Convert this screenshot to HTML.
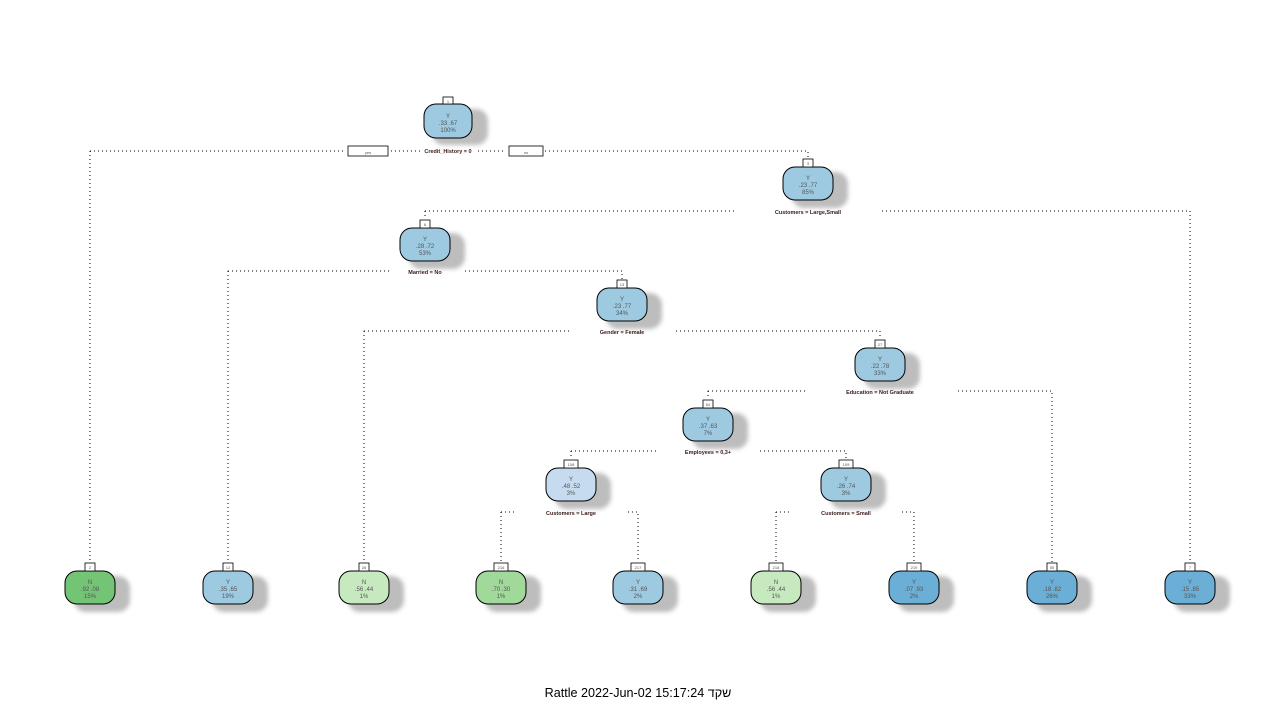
<!DOCTYPE html>
<html><head><meta charset="utf-8"><style>
html,body{margin:0;padding:0;background:#fff;width:1280px;height:720px;overflow:hidden}
svg{display:block}
.t{font-family:"Liberation Sans",sans-serif;font-size:6px;fill:#555;text-anchor:middle}
.s{font-family:"Liberation Sans",sans-serif;font-size:5.5px;fill:#3a1a1a;text-anchor:middle;font-weight:bold}
.d{stroke:#000;stroke-width:1;stroke-dasharray:1 3;fill:none}
.n{stroke:#000;stroke-width:1}
.b{fill:#fff;stroke:#000;stroke-width:0.8}
</style></head><body>
<svg width="1280" height="720" xmlns="http://www.w3.org/2000/svg">
<defs><filter id="bl" x="-30%" y="-30%" width="160%" height="160%"><feGaussianBlur stdDeviation="2"/></filter></defs>
<g class="d">
<path d="M90 151H345M391 151H420M478 151H506M545 151H808V158"/><path d="M90 151V562"/>
<path d="M425 211H735M882 211H1190V562M425 211V219"/>
<path d="M228 271H390M465 271H622V279M228 271V562"/>
<path d="M364 331H572M676 331H880V339M364 331V562"/>
<path d="M708 391H805M958 391H1052V562M708 391V399"/>
<path d="M571 451H657M760 451H846V459M571 451V459"/>
<path d="M501 512H515M628 512H638V562M501 512V562"/>
<path d="M776 512H792M902 512H914V562M776 512V562"/>
</g>
<rect x="348" y="146" width="40" height="10" class="b"/><text x="368" y="154" class="t" style="font-size:4px">yes</text>
<rect x="509" y="146" width="34" height="10" class="b"/><text x="526" y="154" class="t" style="font-size:4px">no</text>
<g>
<g fill="#bdbdbd" filter="url(#bl)">
<rect x="432" y="109" width="56" height="36" rx="12"/>
<rect x="792" y="172" width="56" height="36" rx="12"/>
<rect x="409" y="233" width="56" height="36" rx="12"/>
<rect x="606" y="293" width="56" height="36" rx="12"/>
<rect x="864" y="353" width="56" height="36" rx="12"/>
<rect x="692" y="413" width="56" height="36" rx="12"/>
<rect x="555" y="473" width="56" height="36" rx="12"/>
<rect x="830" y="473" width="56" height="36" rx="12"/>
<rect x="74" y="576" width="56" height="36" rx="12"/>
<rect x="212" y="576" width="56" height="36" rx="12"/>
<rect x="348" y="576" width="56" height="36" rx="12"/>
<rect x="485" y="576" width="56" height="36" rx="12"/>
<rect x="622" y="576" width="56" height="36" rx="12"/>
<rect x="760" y="576" width="56" height="36" rx="12"/>
<rect x="898" y="576" width="56" height="36" rx="12"/>
<rect x="1036" y="576" width="56" height="36" rx="12"/>
<rect x="1174" y="576" width="56" height="36" rx="12"/>
</g>
<g class="n">
<rect x="424" y="104" width="48" height="34" rx="12" fill="#9ecae1"/>
<rect x="783" y="167" width="50" height="33" rx="12" fill="#9ecae1"/>
<rect x="400" y="228" width="50" height="33" rx="12" fill="#9ecae1"/>
<rect x="597" y="288" width="50" height="33" rx="12" fill="#9ecae1"/>
<rect x="855" y="348" width="50" height="33" rx="12" fill="#9ecae1"/>
<rect x="683" y="408" width="50" height="33" rx="12" fill="#9ecae1"/>
<rect x="546" y="468" width="50" height="33" rx="12" fill="#c6dbef"/>
<rect x="821" y="468" width="50" height="33" rx="12" fill="#9ecae1"/>
<rect x="65" y="571" width="50" height="33" rx="12" fill="#74c476"/>
<rect x="203" y="571" width="50" height="33" rx="12" fill="#9ecae1"/>
<rect x="339" y="571" width="50" height="33" rx="12" fill="#c7e9c0"/>
<rect x="476" y="571" width="50" height="33" rx="12" fill="#a1d99b"/>
<rect x="613" y="571" width="50" height="33" rx="12" fill="#9ecae1"/>
<rect x="751" y="571" width="50" height="33" rx="12" fill="#c7e9c0"/>
<rect x="889" y="571" width="50" height="33" rx="12" fill="#6baed6"/>
<rect x="1027" y="571" width="50" height="33" rx="12" fill="#6baed6"/>
<rect x="1165" y="571" width="50" height="33" rx="12" fill="#6baed6"/>
</g>
<g class="b">
<rect x="443" y="97" width="10" height="7"/><rect x="803" y="159" width="10" height="8"/>
<rect x="420" y="220" width="10" height="8"/><rect x="617" y="280" width="10" height="8"/>
<rect x="875" y="340" width="10" height="8"/><rect x="703" y="400" width="10" height="8"/>
<rect x="564" y="460" width="14" height="8"/><rect x="839" y="460" width="14" height="8"/>
<rect x="85" y="563" width="10" height="8"/><rect x="223" y="563" width="10" height="8"/>
<rect x="359" y="563" width="10" height="8"/><rect x="494" y="563" width="14" height="8"/>
<rect x="631" y="563" width="14" height="8"/><rect x="769" y="563" width="14" height="8"/>
<rect x="907" y="563" width="14" height="8"/><rect x="1047" y="563" width="10" height="8"/>
<rect x="1185" y="563" width="10" height="8"/>
</g>
<g class="t" style="font-size:4px">
<text x="448" y="103">1</text><text x="808" y="165">3</text><text x="425" y="226">6</text>
<text x="622" y="286">13</text><text x="880" y="346">27</text><text x="708" y="406">54</text>
<text x="571" y="466">108</text><text x="846" y="466">109</text><text x="90" y="569">2</text>
<text x="228" y="569">12</text><text x="364" y="569">26</text><text x="501" y="569">216</text>
<text x="638" y="569">217</text><text x="776" y="569">218</text><text x="914" y="569">219</text>
<text x="1052" y="569">55</text><text x="1190" y="569">7</text>
</g>
<g class="t">
<text x="448" y="118">Y</text><text x="448" y="125">.33 .67</text><text x="448" y="132">100%</text>
<text x="808" y="180">Y</text><text x="808" y="187">.23 .77</text><text x="808" y="194">85%</text>
<text x="425" y="241">Y</text><text x="425" y="248">.28 .72</text><text x="425" y="255">53%</text>
<text x="622" y="301">Y</text><text x="622" y="308">.23 .77</text><text x="622" y="315">34%</text>
<text x="880" y="361">Y</text><text x="880" y="368">.22 .78</text><text x="880" y="375">33%</text>
<text x="708" y="421">Y</text><text x="708" y="428">.37 .63</text><text x="708" y="435">7%</text>
<text x="571" y="481">Y</text><text x="571" y="488">.48 .52</text><text x="571" y="495">3%</text>
<text x="846" y="481">Y</text><text x="846" y="488">.26 .74</text><text x="846" y="495">3%</text>
<text x="90" y="584">N</text><text x="90" y="591">.92 .08</text><text x="90" y="598">15%</text>
<text x="228" y="584">Y</text><text x="228" y="591">.35 .65</text><text x="228" y="598">19%</text>
<text x="364" y="584">N</text><text x="364" y="591">.56 .44</text><text x="364" y="598">1%</text>
<text x="501" y="584">N</text><text x="501" y="591">.70 .30</text><text x="501" y="598">1%</text>
<text x="638" y="584">Y</text><text x="638" y="591">.31 .69</text><text x="638" y="598">2%</text>
<text x="776" y="584">N</text><text x="776" y="591">.56 .44</text><text x="776" y="598">1%</text>
<text x="914" y="584">Y</text><text x="914" y="591">.07 .93</text><text x="914" y="598">2%</text>
<text x="1052" y="584">Y</text><text x="1052" y="591">.18 .82</text><text x="1052" y="598">26%</text>
<text x="1190" y="584">Y</text><text x="1190" y="591">.15 .85</text><text x="1190" y="598">33%</text>
</g>
<g class="s">
<text x="448" y="153">Credit_History = 0</text>
<text x="808" y="214">Customers = Large,Small</text>
<text x="425" y="274">Married = No</text>
<text x="622" y="334">Gender = Female</text>
<text x="880" y="394">Education = Not Graduate</text>
<text x="708" y="454">Employees = 0,3+</text>
<text x="571" y="515">Customers = Large</text>
<text x="846" y="515">Customers = Small</text>
</g>
</g>
<text x="638" y="697" style="font-family:'Liberation Sans',sans-serif;font-size:12.6px;fill:#000;text-anchor:middle">Rattle 2022-Jun-02 15:17:24 שקד</text>
</svg>
</body></html>
